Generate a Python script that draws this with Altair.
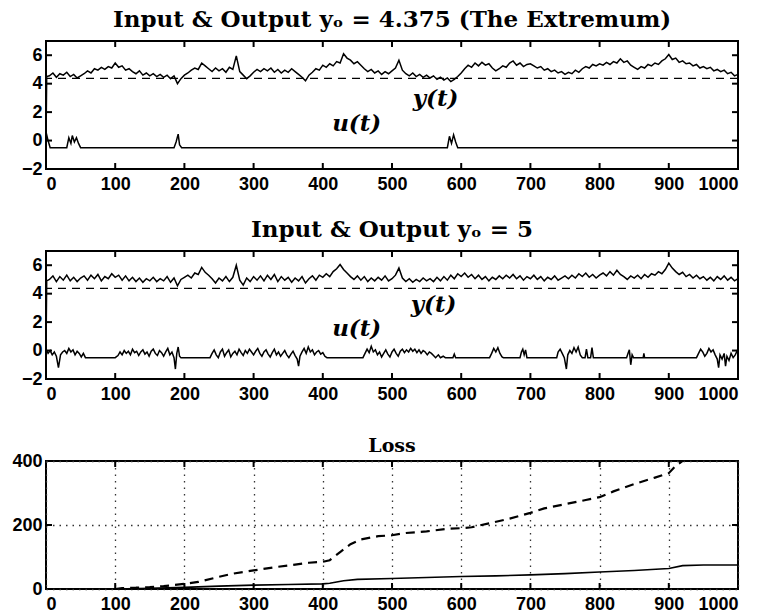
import altair as alt
import pandas as pd

# ---------------- data ----------------
T_STEP = list(range(5, 1001, 5))  # sampling grid for the output traces

# Panel 1: output y(t) for y_o = 4.375
y1_start_t = [0, 1]
y1_start_v = [0.0, 4.5]
y1_vals = [
    4.55, 4.75, 4.45, 4.70, 4.60, 4.80, 4.50, 4.65, 4.40, 4.55,
    4.70, 4.90, 4.75, 5.05, 4.95, 5.15, 5.00, 5.20, 5.10, 5.45,
    5.15, 5.25, 4.95, 5.05, 4.85, 4.70, 4.90, 4.60, 4.75, 4.55,
    4.70, 4.50, 4.65, 4.45, 4.60, 4.35, 4.55, 4.00, 4.35, 4.60,
    4.75, 4.95, 5.10, 5.00, 5.45, 5.25, 5.05, 4.85, 5.10, 4.90,
    5.05, 4.80, 5.15, 5.00, 5.95, 4.85, 4.60, 4.35, 4.55, 4.80,
    5.00, 4.85, 5.05, 4.90, 5.10, 4.80, 5.00, 4.75, 4.95, 4.80,
    5.05, 4.85, 4.65, 4.45, 4.20, 4.60, 4.80, 5.05, 4.95, 5.30,
    5.15, 5.40, 5.25, 5.55, 5.45, 6.10, 5.80, 5.65, 5.40, 5.55,
    5.30, 5.05, 4.85, 5.00, 4.75, 4.90, 4.65, 4.85, 4.70, 4.90,
    5.10, 5.65, 4.95, 4.70, 4.55, 4.75, 4.50, 4.65, 4.45, 4.60,
    4.40, 4.55, 4.30, 4.45, 4.25, 4.40, 4.15, 4.30, 4.50, 4.75,
    5.05, 5.30, 5.15, 5.45, 5.25, 5.50, 5.30, 5.40, 5.10, 4.90,
    5.05, 5.25, 5.15, 5.45, 5.60, 5.30, 5.45, 5.20, 5.35, 5.40,
    5.25, 5.10, 5.20, 4.95, 5.05, 4.85, 4.95, 4.75, 4.85, 4.65,
    4.80, 4.70, 4.95, 4.80, 5.05, 5.20, 5.10, 5.35, 5.25, 5.40,
    5.30, 5.50, 5.35, 5.55, 5.45, 5.75, 5.50, 5.60, 5.30, 5.15,
    5.00, 5.20, 5.10, 5.35, 5.25, 5.45, 5.35, 5.60, 5.75, 6.05,
    5.70, 5.80, 5.50, 5.60, 5.40, 5.45, 5.25, 5.35, 5.10, 5.20,
    5.05, 5.15, 4.90, 5.00, 4.85, 4.95, 4.70, 4.80, 4.55, 4.65,
]

# Panel 1: input u(t)
u1_t = [0, 3, 6, 30, 33, 36, 38, 41, 44, 47, 50, 185, 188, 191, 193, 196,
        580, 583, 586, 589, 592, 595, 1000]
u1_v = [0.6, 0.0, -0.5, -0.5, 0.2, -0.2, 0.35, -0.1, 0.2, -0.2, -0.5, -0.5, -0.1, 0.45, -0.3, -0.5,
        -0.5, 0.3, -0.2, 0.4, -0.1, -0.5, -0.5]

# Panel 2: output y(t) for y_o = 5
y2_start_t = [0, 1]
y2_start_v = [0.0, 4.9]
y2_vals = [
    5.00, 5.25, 4.85, 5.20, 4.95, 5.30, 4.90, 5.15, 4.85, 5.10,
    5.25, 4.95, 5.30, 5.05, 5.35, 4.90, 5.20, 5.05, 5.40, 5.15,
    5.30, 4.95, 5.25, 4.90, 5.15, 4.85, 5.10, 4.80, 5.05, 4.90,
    5.15, 4.85, 5.05, 4.90, 5.20, 4.80, 5.10, 4.55, 5.00, 5.15,
    5.30, 5.10, 5.45, 5.35, 5.85, 5.50, 5.30, 5.05, 4.75, 5.10,
    4.90, 5.20, 4.85, 5.15, 6.00, 4.95, 4.60, 5.10, 4.85, 5.20,
    4.95, 5.25, 4.90, 5.30, 5.00, 5.35, 4.85, 5.20, 4.95, 5.15,
    4.80, 5.10, 4.90, 5.20, 4.75, 5.05, 5.25, 4.95, 5.30, 5.15,
    5.40, 5.20, 5.55, 5.75, 6.05, 5.70, 5.45, 5.20, 5.00, 5.25,
    4.95, 5.20, 4.85, 5.10, 4.90, 5.15, 4.95, 5.25, 4.90, 5.05,
    5.30, 5.80, 5.10, 4.85, 5.05, 4.80, 5.00, 4.85, 5.10, 4.90,
    5.05, 4.85, 5.15, 4.90, 5.20, 4.95, 5.30, 5.05, 5.40, 5.20,
    5.45, 5.15, 5.35, 5.05, 5.30, 5.00, 5.20, 4.90, 5.15, 5.00,
    5.25, 5.05, 5.30, 5.10, 5.35, 5.05, 5.25, 4.95, 5.20, 5.05,
    5.30, 5.00, 5.20, 4.90, 5.15, 5.00, 5.25, 4.95, 5.10, 5.25,
    5.05, 5.30, 5.10, 5.40, 5.20, 5.45, 5.15, 5.35, 5.10, 5.30,
    5.45, 5.25, 5.55, 5.30, 5.65, 5.35, 5.20, 5.00, 5.25, 5.10,
    5.30, 5.05, 5.35, 5.15, 5.40, 5.30, 5.55, 5.40, 5.70, 6.15,
    5.80, 5.55, 5.35, 5.50, 5.20, 5.35, 5.10, 5.30, 5.05, 5.20,
    4.95, 5.15, 4.90, 5.20, 5.00, 5.25, 4.95, 5.15, 4.90, 5.05,
]

# Panel 2: input u(t)
u2_t = [0, 3, 6, 9, 12, 15, 18, 21, 24, 27, 30, 33, 36, 39, 42, 45, 48, 51, 54, 57,
        100, 104, 107, 110, 113, 116, 119, 122, 125, 128, 131, 134, 137, 140, 143, 146,
        149, 152, 155, 158, 161, 164, 167, 170, 173, 176, 179, 182, 185, 187, 189, 191,
        193, 195,
        237, 240, 243, 246, 249, 252, 255, 258, 261, 264, 267, 270, 273, 276, 279, 282,
        285, 288, 291, 294, 297, 300, 303, 306, 309, 312, 315, 318, 321, 324, 327, 330,
        333, 336, 339, 342, 345, 348, 351, 354, 357, 360, 363, 365, 367, 370, 373, 376,
        379, 382, 385, 388, 391, 394, 397, 400, 403, 406,
        458, 461, 464, 467, 470, 473, 476, 479, 482, 485, 488, 491, 494, 497, 500, 503,
        506, 509, 512, 515, 518, 521, 524, 527, 530, 533, 536, 539, 542, 545, 548, 551,
        554, 557, 560, 563, 567, 570, 574, 577, 588, 590, 592,
        641, 644, 647, 650, 653, 656, 659, 661,
        685, 687, 689, 691, 693, 695,
        738, 740, 743, 746, 749, 752, 754, 757, 760, 763, 766, 769, 772, 775, 779, 781,
        783, 787, 789, 791,
        839, 841, 843, 845, 847, 849, 863, 864, 865,
        940, 943, 946, 949, 952, 955, 958, 961, 964, 967, 970, 972, 974, 977, 980, 982,
        984, 987, 990, 993, 996, 1000]
u2_v = [0.1, -0.2, 0.0, -0.3, -0.1, -0.4, -1.2, -0.3, -0.1, 0.0, -0.2, 0.15, -0.1, 0.05, -0.3, -0.05, -0.2, -0.45, -0.2, -0.5,
        -0.5, -0.35, -0.1, -0.3, 0.0, -0.2, -0.05, -0.3, 0.1, -0.15, -0.05, -0.35, -0.1, 0.05, -0.25, -0.1,
        -0.4, -0.05, 0.1, -0.2, -0.35, 0.0, -0.15, -0.4, -0.1, 0.15, -0.3, -0.1, -0.5, -1.3, -0.2, 0.25,
        -0.4, -0.5,
        -0.5, -0.2, 0.05, -0.3, -0.5, -0.1, 0.1, -0.4, -0.15, 0.05, -0.45, -0.2, -0.05, -0.3, 0.1, -0.15,
        -0.35, 0.0, -0.2, 0.1, -0.1, -0.3, -0.05, 0.15, -0.2, -0.4, -0.1, 0.05, -0.25, -0.45, -0.15, 0.1,
        -0.3, -0.1, -0.4, -0.2, 0.0, -0.3, -0.5, -0.25, -0.05, -0.35, -0.6, -1.1, -0.4, -0.1, 0.15, -0.2,
        0.25, -0.1, 0.05, -0.3, -0.1, 0.0, -0.25, -0.15, -0.4, -0.5,
        -0.5, -0.2, 0.1, -0.15, 0.3, -0.1, 0.05, -0.3, -0.1, -0.45, -0.2, 0.05, -0.25, -0.45, -0.1, 0.1,
        -0.2, -0.4, -0.05, 0.1, -0.15, 0.05, -0.1, 0.15, -0.05, 0.1, -0.15, 0.05, -0.2, 0.0, -0.1, -0.3,
        -0.1, -0.2, -0.35, -0.5, -0.3, -0.5, -0.4, -0.5, -0.5, -0.25, -0.5,
        -0.5, -0.2, 0.15, -0.1, 0.2, -0.2, -0.45, -0.5,
        -0.5, -0.1, 0.1, -0.3, 0.05, -0.5,
        -0.5, -0.1, 0.1, -0.2, -0.5, -1.3, -0.3, 0.0, -0.2, 0.2, -0.1, 0.25, -0.3, -0.5, -0.5, 0.1,
        -0.5, -0.5, 0.2, -0.5,
        -0.5, -0.2, 0.05, -1.0, -0.3, -0.5, -0.5, -0.2, -0.5,
        -0.5, -0.2, 0.1, -0.1, -0.4, -0.2, 0.15, -0.1, 0.05, -0.3, -0.6, -1.2, -0.3, -0.6, -0.2, -1.1,
        -0.4, -0.7, -0.2, -0.5, -0.3, 0.1]

Y_EXTREMUM = 4.375

# Loss panel
loss_dash_t = [100, 110, 130, 150, 170, 200, 220, 250, 270, 300, 330, 360, 380, 400, 410, 425,
               440, 455, 480, 500, 520, 550, 580, 600, 615, 640, 670, 700, 720, 750, 780, 800,
               820, 850, 880, 900, 910, 920, 925]
loss_dash_v = [0, 3, 4, 6, 9, 16, 22, 38, 48, 58, 68, 76, 82, 85, 90, 115,
               140, 155, 165, 168, 175, 180, 188, 190, 193, 205, 220, 238, 252, 265, 278, 287,
               305, 328, 348, 362, 385, 400, 410]
loss_solid_t = [100, 150, 200, 250, 300, 350, 400, 410, 430, 450, 500, 550, 600, 650, 700, 750,
                800, 850, 900, 920, 950, 1000]
loss_solid_v = [0, 2, 5, 9, 12, 14, 16, 18, 26, 30, 33, 36, 39, 41, 44, 48,
                53, 58, 64, 73, 75, 75]

X_TICKS = [0, 100, 200, 300, 400, 500, 600, 700, 800, 900, 1000]
IO_Y_TICKS = [-2, 0, 2, 4, 6]
LOSS_Y_TICKS = [0, 200, 400]

TITLE1 = "Input & Output yₒ = 4.375 (The Extremum)"
TITLE2 = "Input & Output yₒ = 5"
TITLE3 = "Loss"

# ---------------- chart ----------------
W, H = 692, 128
SERIF = "DejaVu Serif"
SANS = "Liberation Sans"


def axes(ydom, yticks, grid):
    gx = dict(grid=True, gridDash=[1.5, 5], gridColor="#333", gridWidth=1.3) if grid else dict(grid=False)
    x = alt.X("t:Q", title=None, scale=alt.Scale(domain=[0, 1000], nice=False, zero=False),
              axis=alt.Axis(values=X_TICKS, format="d", labelOverlap=False, **gx))
    y = alt.Y("v:Q", title=None, scale=alt.Scale(domain=ydom, nice=False, zero=False),
              axis=alt.Axis(values=yticks, format="d", labelOverlap=False, **gx))
    return x, y


def tick_rules(ydom, yticks, grid):
    xdom = [0, 1000]
    x, y = axes(ydom, yticks, grid)
    xlen = (xdom[1] - xdom[0]) * 6 / W
    ylen = (ydom[1] - ydom[0]) * 6 / H
    rows = []
    for xt in X_TICKS:
        if xdom[0] < xt < xdom[1]:
            rows.append({"t": xt, "t2": xt, "v": ydom[0], "v2": ydom[0] + ylen})
            rows.append({"t": xt, "t2": xt, "v": ydom[1], "v2": ydom[1] - ylen})
    for yt in yticks:
        if ydom[0] < yt < ydom[1]:
            rows.append({"t": xdom[0], "t2": xdom[0] + xlen, "v": yt, "v2": yt})
            rows.append({"t": xdom[1], "t2": xdom[1] - xlen, "v": yt, "v2": yt})
    return alt.Chart(pd.DataFrame(rows)).mark_rule(color="black", strokeWidth=2).encode(
        x=x, x2="t2:Q", y=y, y2="v2:Q")


def io_panel(title, yt, yv, ut, uv, lab_y, lab_u):
    ydom = [-2, 7]
    x, y = axes(ydom, IO_Y_TICKS, False)
    ydf = pd.DataFrame({"t": yt, "v": yv})
    udf = pd.DataFrame({"t": ut, "v": uv})
    ly = alt.Chart(ydf).mark_line(color="black", strokeWidth=1.5).encode(x=x, y=y)
    lu = alt.Chart(udf).mark_line(color="black", strokeWidth=1.5).encode(x=x, y=y)
    ref = alt.Chart(pd.DataFrame({"v": [Y_EXTREMUM]})).mark_rule(
        color="black", strokeWidth=1.4, strokeDash=[8, 6]).encode(y=y)
    labs = pd.DataFrame({"t": [lab_y[0], lab_u[0]], "v": [lab_y[1], lab_u[1]], "s": ["y(t)", "u(t)"]})
    txt = alt.Chart(labs).mark_text(font=SERIF, fontStyle="italic", fontWeight="bold",
                                    fontSize=23, color="black").encode(x=x, y=y, text="s:N")
    return alt.layer(ly, lu, ref, txt, tick_rules(ydom, IO_Y_TICKS, False)).properties(
        width=W, height=H,
        title=alt.TitleParams(title, font=SERIF, fontWeight="bold", fontSize=23, offset=8, color="black"))


p1 = io_panel(TITLE1, y1_start_t + T_STEP, y1_start_v + y1_vals, u1_t, u1_v, (563, 2.9), (449, 1.15))
p2 = io_panel(TITLE2, y2_start_t + T_STEP, y2_start_v + y2_vals, u2_t, u2_v, (560, 3.2), (449, 1.55))

ldom = [0, 400]
lx, ly_ = axes(ldom, LOSS_Y_TICKS, True)
dash = alt.Chart(pd.DataFrame({"t": loss_dash_t, "v": loss_dash_v})).mark_line(
    color="black", strokeWidth=2.2, strokeDash=[9, 6], clip=True).encode(x=lx, y=ly_)
solid = alt.Chart(pd.DataFrame({"t": loss_solid_t, "v": loss_solid_v})).mark_line(
    color="black", strokeWidth=1.6).encode(x=lx, y=ly_)
p3 = alt.layer(dash, solid, tick_rules(ldom, LOSS_Y_TICKS, True)).properties(
    width=W, height=H,
    title=alt.TitleParams(TITLE3, font=SERIF, fontWeight="bold", fontSize=19, offset=-4, color="black"))

chart = alt.vconcat(p1, p2, p3, spacing=82, bounds="flush").properties(
    padding={"left": 10, "top": 8, "right": 2, "bottom": 0},
    background="white",
).configure_view(stroke="black", strokeWidth=2).configure_axis(
    domain=False, ticks=False, labelFont=SANS, labelFontWeight="bold", labelFontSize=18,
    labelColor="black", labelPadding=6, labelOverlap=False,
).configure_axisY(labelPadding=4)

chart.save("out.html", embed_options={"renderer": "svg", "actions": False})
